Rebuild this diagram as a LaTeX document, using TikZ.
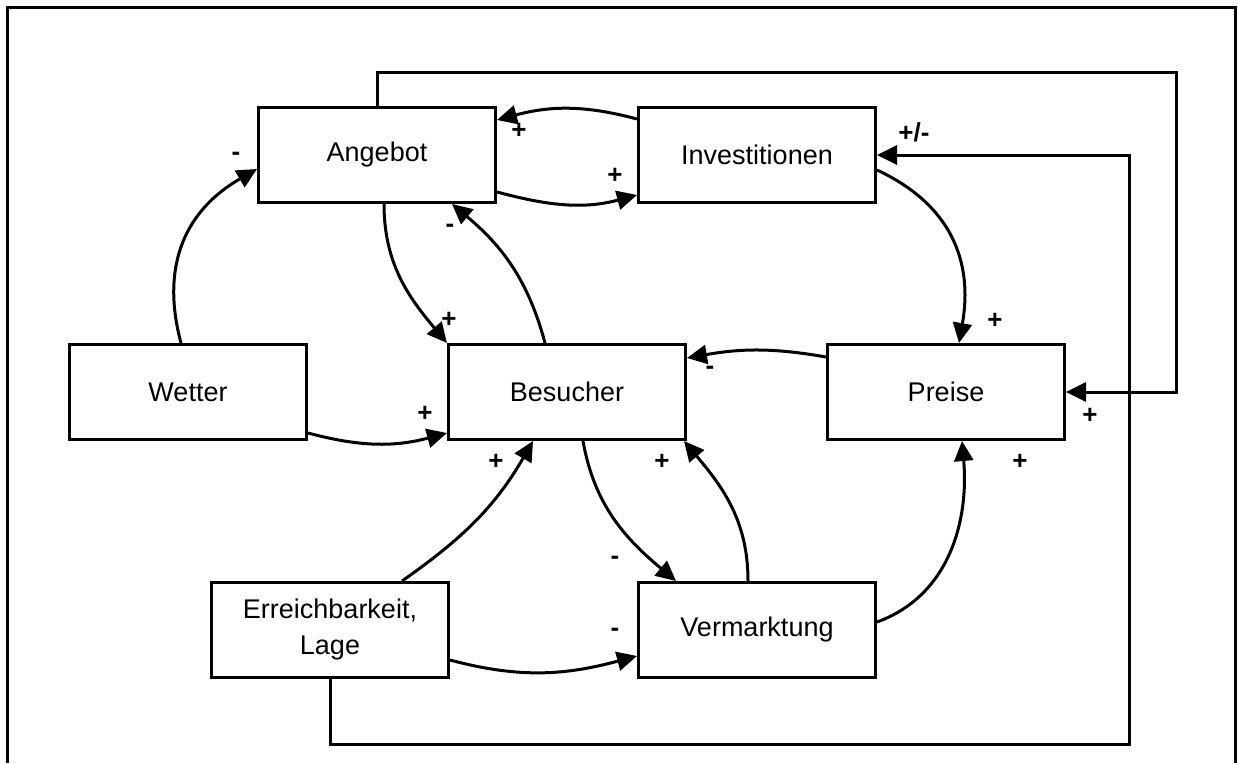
\documentclass[tikz,border=0pt]{standalone}
\usepackage{fontspec}
\setmainfont{Liberation Sans}
\usetikzlibrary{arrows.meta}

\tikzset{
  box/.style={draw,line width=3pt,minimum width=237pt,minimum height=95pt,
    inner sep=0pt,align=center,font=\fontsize{27}{36}\selectfont},
  arr/.style={line width=3pt,-{Triangle[length=20pt,width=19pt]}},
  sign/.style={font=\fontsize{26}{28}\selectfont\bfseries,inner sep=0pt}
}

\begin{document}
\begin{tikzpicture}[x=1pt,y=-1pt]
      \useasboundingbox (0,0) rectangle (1238,763);
      \draw[line width=3pt] (7,763) -- (7,7) -- (1235,7) -- (1235,763);

      \node[box] (ang) at (377,155) {Angebot};
      \node[box] (inv) at (757,155) {Investitionen};
      \node[box] (wet) at (188,392) {Wetter};
      \node[box] (bes) at (567,392) {Besucher};
      \node[box] (pre) at (946,392) {Preise};
      \node[box] (err) at (330,630) {Erreichbarkeit,\\Lage};
      \node[box] (ver) at (757,630) {Vermarktung};

      \coordinate (top) at (1176,72);
      \coordinate (bot) at (1129,744);

      \begin{scope}[arr]
        \draw ([xshift=-7pt]wet.north) to[out=105,in=210,looseness=1.1] ([yshift=-14pt]ang.west);
        \draw ([yshift=-41pt]wet.east) to[out=-15,in=195] ([yshift=-41pt]bes.west);
        \draw ([yshift=-37pt]ang.east) to[out=-15,in=195] ([yshift=-40pt]inv.west);
        \draw ([yshift=36pt]inv.west) to[out=165,in=15] ([yshift=35pt]ang.east);
        \draw ([xshift=7pt]ang.south) to[out=-90,in=130] (bes.north west);
        \draw ([xshift=-22pt]bes.north) to[out=105,in=-40] ([xshift=-45pt]ang.south east);
        \draw ([yshift=-15pt]inv.east) to[out=-25,in=80,looseness=1.1] ([xshift=13pt]pre.north);
        \draw ([yshift=35pt]pre.west) to[out=170,in=10] ([yshift=34pt]bes.east);
        \draw ([xshift=72pt]err.north) to[out=35,in=-120] ([xshift=-34pt]bes.south);
        \draw ([xshift=16pt]bes.south) to[out=-80,in=140] ([xshift=39pt]ver.north west);
        \draw ([xshift=-9pt]ver.north) to[out=90,in=-50] ([xshift=-3pt]bes.south east);
        \draw ([yshift=8pt]ver.east) to[out=20,in=-85] ([xshift=16pt]pre.south);
        \draw ([yshift=-30pt]err.east) to[out=-15,in=195] ([yshift=-26pt]ver.west);
        % feedback loops round the outside
        \draw (ang.north) |- (top) |- (pre.east);
        \draw (err.south) |- (bot) |- (inv.east);
      \end{scope}

      \node[sign] (s1) at (236,156) {-};
      \node[sign] (s2) at (425,414) {+};
      \node[sign] (s3) at (519,131) {+};
      \node[sign] (s4) at (615,176) {+};
      \node[sign] (s5) at (449,320) {+};
      \node[sign] (s6) at (450,228) {-};
      \node[sign] (s7) at (914,132) {+/-};
      \node[sign] (s8) at (995,321) {+};
      \node[sign] (s9) at (710,370) {-};
      \node[sign] (s10) at (1090,416) {+};
      \node[sign] (s11) at (496,462) {+};
      \node[sign] (s12) at (662,462) {+};
      \node[sign] (s13) at (1020,462) {+};
      \node[sign] (s14) at (615,560) {-};
      \node[sign] (s15) at (615,632) {-};
\end{tikzpicture}
\end{document}
